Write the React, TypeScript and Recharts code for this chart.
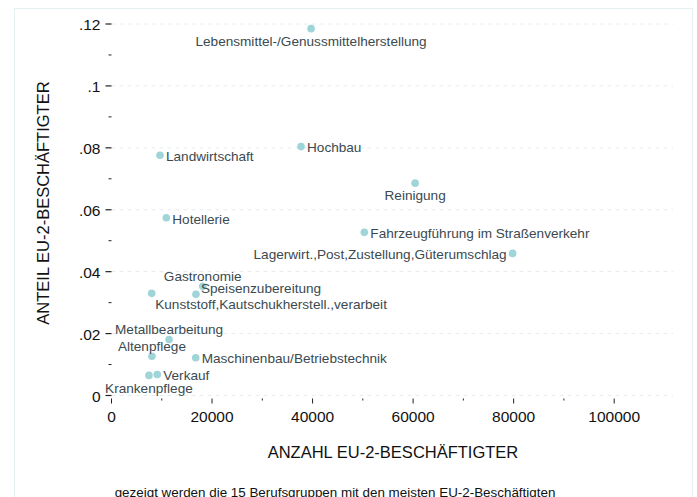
import { ScatterChart, Scatter, XAxis, YAxis, CartesianGrid } from "recharts";

// 15 Berufsgruppen: Anzahl EU-2-Beschäftigter und Anteil
const groups = [
  "Lebensmittel-/Genussmittelherstellung",
  "Landwirtschaft",
  "Hochbau",
  "Hotellerie",
  "Reinigung",
  "Fahrzeugführung im Straßenverkehr",
  "Lagerwirt.,Post,Zustellung,Güterumschlag",
  "Gastronomie",
  "Speisenzubereitung",
  "Kunststoff,Kautschukherstell.,verarbeit",
  "Metallbearbeitung",
  "Altenpflege",
  "Maschinenbau/Betriebstechnik",
  "Verkauf",
  "Krankenpflege",
];
const anzahl = [39700, 9650, 37700, 10900, 60400, 50300, 79800, 18150, 16800, 8000, 11450, 8050, 16750, 9100, 7450];
const anteil = [0.1185, 0.0776, 0.0804, 0.0574, 0.0686, 0.0527, 0.0459, 0.0353, 0.0327, 0.033, 0.0181, 0.0127, 0.0122, 0.0068, 0.0065];

const xMajorTicks = [0, 20000, 40000, 60000, 80000, 100000];
const xMinorTicks = [10000, 30000, 50000, 70000, 90000];
const yMajorTicks = [0, 0.02, 0.04, 0.06, 0.08, 0.1, 0.12];
const yMinorTicks = [0.01, 0.03, 0.05, 0.07, 0.09, 0.11];
const yTickLabels = ["0", ".02", ".04", ".06", ".08", ".1", ".12"];

// label placement per point (like stata mlabpos)
const labelPos = ["below", "right", "right", "right", "below", "right", "left", "above", "upright", "downright", "above", "above", "right", "right", "below"];

const data = groups.map((name, i) => ({ name, x: anzahl[i], y: anteil[i], pos: labelPos[i] }));

const FONT = "'Liberation Sans', Arial, Helvetica, sans-serif";
const DOT = "#9fd5d8";
const LABEL = "#3b4a50";

const near = (a: number, b: number) => Math.abs(a - b) < 1e-9;

const YTick = (props: any) => {
  const { x, y, payload } = props;
  const idx = yMajorTicks.findIndex((t) => near(t, payload.value));
  if (idx < 0) {
    return <line x1={x - 3} x2={x} y1={y} y2={y} stroke="#222" strokeWidth={1} />;
  }
  return (
    <g>
      <line x1={x - 6} x2={x} y1={y} y2={y} stroke="#222" strokeWidth={1.2} />
      <text x={x - 11} y={y + 6} textAnchor="end" fontSize={15.5} fontFamily={FONT} fill="#111">
        {yTickLabels[idx]}
      </text>
    </g>
  );
};

const XTick = (props: any) => {
  const { x, y, payload } = props;
  const major = xMajorTicks.some((t) => t === payload.value);
  if (!major) {
    return <line x1={x} x2={x} y1={y + 3} y2={y + 5} stroke="#222" strokeWidth={1} />;
  }
  return (
    <g>
      <line x1={x} x2={x} y1={y + 3} y2={y + 8} stroke="#222" strokeWidth={1} />
      <text x={x} y={y + 26} textAnchor="middle" fontSize={15.5} fontFamily={FONT} fill="#111">
        {payload.value}
      </text>
    </g>
  );
};

const PointShape = (props: any) => {
  const { cx, cy, payload } = props;
  let dx = 6;
  let dy = 1;
  let anchor: "start" | "middle" | "end" = "start";
  switch (payload.pos) {
    case "below":
      dx = 0; dy = 12.5; anchor = "middle"; break;
    case "above":
      dx = 0; dy = -10; anchor = "middle"; break;
    case "left":
      dx = -6; dy = 1; anchor = "end"; break;
    case "upright":
      dx = 5; dy = -6.5; break;
    case "downright":
      dx = 3.5; dy = 11; break;
  }
  return (
    <g>
      <circle cx={cx} cy={cy} r={3.8} fill={DOT} />
      <text
        x={cx + dx}
        y={cy + dy}
        dy="0.35em"
        textAnchor={anchor}
        fontSize={13.6}
        fontFamily={FONT}
        fill={LABEL}
      >
        {payload.name}
      </text>
    </g>
  );
};

export default function App() {
  return (
    <div style={{ position: "absolute", left: 0, top: 0, width: 697, height: 497, background: "#fff", overflow: "hidden" }}>
      <div style={{ position: "absolute", left: 14, top: 8, width: 679, height: 500, border: "1px solid #e6eff2", boxSizing: "border-box" }} />
      <ScatterChart width={697} height={497} margin={{ top: 24, right: 24, bottom: 0, left: 0 }}>
        <CartesianGrid
          horizontal
          vertical={false}
          horizontalValues={yMajorTicks}
          stroke="#e4ecee"
          strokeDasharray="4 4"
        />
        <XAxis
          type="number"
          dataKey="x"
          domain={[0, 111700]}
          ticks={[...xMajorTicks, ...xMinorTicks].sort((a, b) => a - b)}
          interval={0}
          height={101.5}
          axisLine={false}
          tickLine={false}
          tickSize={0}
          tickMargin={0}
          tick={<XTick />}
        />
        <YAxis
          type="number"
          dataKey="y"
          domain={[0, 0.12]}
          ticks={[...yMajorTicks, ...yMinorTicks].sort((a, b) => a - b)}
          interval={0}
          width={111.5}
          axisLine={false}
          tickLine={false}
          tickSize={0}
          tickMargin={0}
          tick={<YTick />}
        />
        <Scatter data={data} shape={<PointShape />} isAnimationActive={false} />
      </ScatterChart>
      <div
        style={{
          position: "absolute",
          left: 43,
          top: 203,
          transform: "translate(-50%, -50%) rotate(-90deg)",
          whiteSpace: "nowrap",
          fontFamily: FONT,
          fontSize: 16.5,
          color: "#111",
        }}
      >
        ANTEIL EU-2-BESCHÄFTIGTER
      </div>
      <div
        style={{
          position: "absolute",
          left: 393,
          top: 452,
          transform: "translate(-50%, -50%)",
          whiteSpace: "nowrap",
          fontFamily: FONT,
          fontSize: 16.5,
          color: "#111",
        }}
      >
        ANZAHL EU-2-BESCHÄFTIGTER
      </div>
      <div
        style={{
          position: "absolute",
          left: 335,
          top: 492,
          transform: "translate(-50%, -50%)",
          whiteSpace: "nowrap",
          fontFamily: FONT,
          fontSize: 13.4,
          color: "#111",
        }}
      >
        gezeigt werden die 15 Berufsgruppen mit den meisten EU-2-Beschäftigten
      </div>
    </div>
  );
}
